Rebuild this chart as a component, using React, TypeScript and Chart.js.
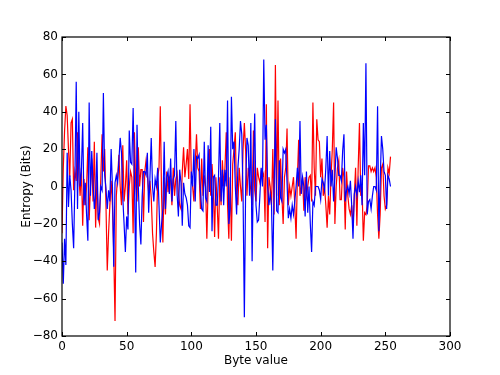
import React, { useEffect, useRef } from "react";
import { Chart, registerables } from "chart.js";

Chart.register(...registerables);

const blueValues: number[] = [
  -30, -52, -28, -42, 18, -11, 6, -2, -20, -33, 4, 56, -12, 40, 0, 8, 34, -10, 2, -15,
  -29, 45, -5, 19, 2, -12, -4, 18, -18, -14, 0, -2, 50, 6, -1, -12, -2, -8, 20, 0,
  -43, 2, 6, 2, 14, 26, 18, -6, -20, -35, -16, -23, 30, 13, 12, 42, 4, -46, 33, 0,
  -20, -31, -5, 8, 8, 6, 18, -14, 5, 26, 0, -8, 4, 0, 10, -10, -30, -20, -12, 24,
  -12, 5, 8, -4, 15, -8, 4, 6, 35, -4, -16, 9, 2, -21, 2, -4, -6, -10, -21, -22,
  8, 0, 20, -8, 16, 15, 17, -2, -12, -13, 24, -6, -8, 22, -3, 32, -24, 5, 6, -10,
  -10, 5, 34, -8, 9, -10, 9, 0, 46, -20, -12, 48, 20, 24, 0, -15, 10, 20, 35, 28,
  -5, -70, 0, 26, 22, -5, 34, -40, 10, 39, -10, -19, -18, -5, 10, 0, 68, 25, 33, 0,
  -10, -4, -10, -45, 0, 36, -13, -14, 14, -6, -8, 20, 18, 20, 2, -17, -12, -17, -10, -15,
  -8, 0, 10, 0, 35, -4, 5, 0, -16, 8, -14, 0, -20, -35, -8, -10, 0, 0, 0, -2,
  -7, 4, 2, -2, 10, 27, -5, 19, 0, 9, -8, 5, 21, 15, 6, 6, 3, 19, 28, -8,
  -2, 0, -4, 3, -10, -28, -4, 0, -5, 3, -3, 6, -10, 34, 6, 66, -15, -8, -7, -12,
  -5, 0, 0, -2, 43, -24, 2, 27, 20, 8, 6, -12, 6, 4, 0,
];

const redValues: number[] = [
  -25, 10, 30, 43, 38, 20, 5, 34, 36, -2, 8, 3, 29, 6, -5, 10, -21, 4, -10, 0,
  21, -18, 0, 15, -8, 24, -22, 5, -17, -20, 5, 28, 8, 20, -10, -45, -25, -10, 3, -10,
  -35, -72, -5, 5, 17, 0, -10, 22, -8, 0, 14, -15, 0, 8, 5, -25, 29, 0, -8, 21,
  0, 9, 9, -19, 8, 14, 6, -3, 3, -6, -25, -35, -43, -25, 5, 10, 43, -5, -30, 5,
  -15, 8, -3, 5, 3, -10, 10, -5, 4, 7, -4, -10, -12, 8, 21, 5, 12, 20, 4, 44,
  5, 0, -8, 12, 28, 10, 8, -12, 15, -5, 6, 0, -28, 0, 20, -5, 12, 0, -27, 5,
  -10, -28, 5, -10, 14, 0, 10, 29, -10, -28, 5, -29, 12, 20, 29, -5, -10, 10, 0, -8,
  20, 34, 19, -5, 10, 4, -2, -10, 30, -2, -8, 10, 5, 2, 8, 5, 7, -19, 44, -33,
  5, 0, -10, 20, -15, 65, -5, 46, -10, 15, -5, -20, 5, 10, 31, -10, 0, -5, 0, 5,
  -10, -28, 5, 25, -5, 0, 5, -13, 5, -5, 0, 5, 6, -8, 45, 10, -5, 36, 25, 24,
  5, 15, -5, 0, -10, -22, -5, -15, 5, 20, 45, -20, 0, 10, 14, -7, -7, 10, 5, -23,
  8, -5, -12, -15, -10, -22, -5, 10, -21, 10, 34, -5, 0, -29, -14, -15, -10, 11, 11, 8,
  10, 8, 10, 5, -15, -28, -15, 10, 12, -5, -12, -10, 10, 7, 16,
];

const xTicks: number[] = [0, 50, 100, 150, 200, 250, 300];
const yTicks: number[] = [-80, -60, -40, -20, 0, 20, 40, 60, 80];
const xTitle = "Byte value";
const yTitle = "Entropy (Bits)";

const FONT = "DejaVu Sans";

const framePlugin = {
  id: "mplFrame",
  afterDatasetsDraw(chart: any) {
    const { ctx, chartArea } = chart;
    const xs = chart.scales.x;
    const ys = chart.scales.y;
    const L = chartArea.left, R = chartArea.right, T = chartArea.top, B = chartArea.bottom;
    ctx.save();
    ctx.strokeStyle = "#000";
    ctx.lineWidth = 1;
    ctx.beginPath();
    const tl = 4;
    for (const v of xTicks) {
      const px = Math.round(xs.getPixelForValue(v)) + 0.5;
      ctx.moveTo(px, B);
      ctx.lineTo(px, B - tl);
      ctx.moveTo(px, T);
      ctx.lineTo(px, T + tl);
    }
    for (const v of yTicks) {
      const py = Math.round(ys.getPixelForValue(v)) + 0.5;
      ctx.moveTo(L, py);
      ctx.lineTo(L + tl, py);
      ctx.moveTo(R, py);
      ctx.lineTo(R - tl, py);
    }
    ctx.stroke();
    ctx.lineWidth = 1.2;
    ctx.strokeRect(L, T, R - L, B - T);

    ctx.fillStyle = "#000";
    ctx.font = `12px "${FONT}"`;
    ctx.textAlign = "center";
    ctx.textBaseline = "middle";
    ctx.fillText(xTitle, (L + R) / 2, 361);
    ctx.translate(27, (T + B) / 2);
    ctx.rotate(-Math.PI / 2);
    ctx.fillText(yTitle, 0, 0);
    ctx.restore();
  },
};

export default function App() {
  const ref = useRef<HTMLCanvasElement | null>(null);
  useEffect(() => {
    if (!ref.current) return;
    const chart = new Chart(ref.current, {
      type: "line",
      data: {
        datasets: [
          {
            data: blueValues.map((v, i) => ({ x: i, y: v })),
            borderColor: "#0000ff",
            borderWidth: 1.2,
            pointRadius: 0,
            tension: 0,
            fill: false,
          },
          {
            data: redValues.map((v, i) => ({ x: i, y: v })),
            borderColor: "#ff0000",
            borderWidth: 1.2,
            pointRadius: 0,
            tension: 0,
            fill: false,
          },
        ],
      },
      options: {
        animation: false,
        responsive: false,
        maintainAspectRatio: false,
        layout: { padding: { top: 37, right: 50, left: 0, bottom: 0 } },
        plugins: { legend: { display: false }, tooltip: { enabled: false } },
        scales: {
          x: {
            type: "linear",
            min: 0,
            max: 300,
            afterBuildTicks: (s: any) => {
              s.ticks = xTicks.map((v) => ({ value: v }));
            },
            afterFit: (s: any) => {
              s.height = 39;
            },
            grid: { display: false, drawTicks: false },
            border: { display: false },
            ticks: {
              color: "#000",
              font: { family: FONT, size: 12 },
              padding: 4,
              maxRotation: 0,
              callback: (v: any) => String(v).replace("-", "\u2212"),
            },
          },
          y: {
            type: "linear",
            min: -80,
            max: 80,
            afterBuildTicks: (s: any) => {
              s.ticks = yTicks.map((v) => ({ value: v }));
            },
            afterFit: (s: any) => {
              s.width = 62;
            },
            grid: { display: false, drawTicks: false },
            border: { display: false },
            ticks: {
              color: "#000",
              font: { family: FONT, size: 12 },
              padding: 4,
              callback: (v: any) => String(v).replace("-", "\u2212"),
            },
          },
        },
      },
      plugins: [framePlugin],
    });
    return () => chart.destroy();
  }, []);
  return (
    <div style={{ position: "fixed", left: 0, top: 0, width: 500, height: 375, background: "#fff" }}>
      <canvas ref={ref} width={500} height={375} style={{ width: 500, height: 375 }} />
    </div>
  );
}
